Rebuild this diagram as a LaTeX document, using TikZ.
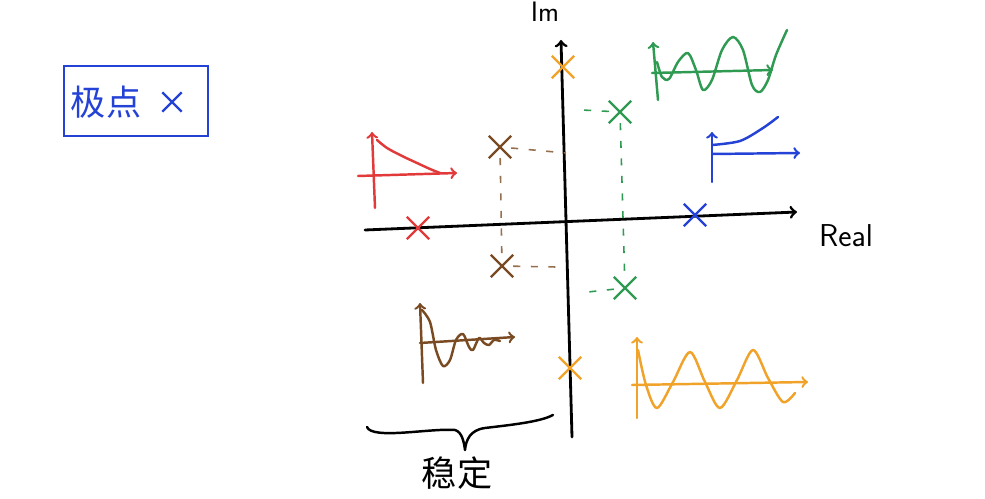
\documentclass[tikz,border=0pt]{standalone}
\usepackage{fontspec}
\newfontfamily\cjk{Noto Sans CJK SC}
\usepackage{tikz}
\usetikzlibrary{arrows,shapes.misc}
\definecolor{penred}{HTML}{E23A3A}
\definecolor{penblue}{HTML}{2443D6}
\definecolor{pengreen}{HTML}{2E9A52}
\definecolor{penbrown}{HTML}{7A4B22}
\definecolor{penorange}{HTML}{F0A229}
\tikzset{pole/.style = {cross out, draw, minimum size = 0.4cm, inner sep = 0pt, line width = 1.4pt}}
\tikzset{axis/.style = {->, > = to, line width = 1.4pt, line cap = round}}
\tikzset{curve/.style = {line width = 1.4pt, line cap = round, line join = round}}
\tikzset{guide/.style = {line width = 0.9pt, dash pattern = on 4pt off 6pt}}
\tikzset{legendbox/.style = {draw = penblue, line width = 1.4pt, minimum width = 2.88cm, minimum height = 1.4cm}}

\begin{document}
\begin{tikzpicture}[x=0.02cm, y=-0.02cm]
	\useasboundingbox (0,0) rectangle (985,499);

	% legend
	\node[legendbox] (legend) at (136,101) {};
	\node[text = penblue, font = \cjk\fontsize{20}{24}\selectfont] (poletext) at (106,102) {极点};
	\node[pole, penblue, minimum size = 0.34cm] (legendx) at (172,102) {};

	% complex plane
	\coordinate (realstart) at (365,230);
	\coordinate (realend) at (797,212);
	\coordinate (imstart) at (572,437);
	\coordinate (imend) at (561,40);
	\draw[axis, line width = 1.6pt] (realstart) -- (realend);
	\draw[axis, line width = 1.6pt] (imstart) -- (imend);
	\node[font = \sffamily\fontsize{16}{18}\selectfont] (imlabel) at (545,12) {Im};
	\node[font = \sffamily\fontsize{18}{20}\selectfont] (reallabel) at (846,236) {Real};

	% poles
	\node[pole, penorange] (o1) at (563,67) {};
	\node[pole, penorange] (o2) at (570,368) {};
	\node[pole, pengreen] (g1) at (620,112) {};
	\node[pole, pengreen] (g2) at (625,288) {};
	\node[pole, penbrown] (b1) at (500,147) {};
	\node[pole, penbrown] (b2) at (502,266) {};
	\node[pole, penred] (r1) at (418,228) {};
	\node[pole, penblue] (u1) at (695,215) {};

	\coordinate (bim1) at (566,153);
	\coordinate (bim2) at (556,267);
	\coordinate (gim1) at (582,110);
	\coordinate (gim2) at (588,292);
	\draw[guide, penbrown!80] (b1) -- (bim1);
	\draw[guide, penbrown!80] (b2) -- (bim2);
	\draw[guide, penbrown!80] (b1) -- (b2);
	\draw[guide, pengreen] (g1) -- (gim1);
	\draw[guide, pengreen] (g2) -- (gim2);
	\draw[guide, pengreen] (g1) -- (g2);

	% responses
	\draw[axis, penred] (375,208) -- (372,132);
	\draw[axis, penred] (358,176) -- (457,173);
	\draw[curve, penred] plot[smooth] coordinates {(377,140) (387,148) (402,156) (417,163) (430,169) (440,173)};

	\draw[axis, penblue] (712,182) -- (712,132);
	\draw[axis, penblue] (712,154) -- (800,153);
	\draw[curve, penblue] plot[smooth] coordinates {(712,145) (740,141) (763,128) (778,117)};

	\draw[axis, pengreen] (658,100) -- (653,42);
	\draw[axis, pengreen] (652,73) -- (773,70);
	\draw[curve, pengreen] plot[smooth] coordinates {(657,62) (662,77) (669,79) (678,62) (688,53) (696,70) (703,90) (712,80) (722,50) (733,37) (743,50) (752,85) (760,92) (768,80) (776,55) (787,30)};

	\draw[axis, penbrown] (423,383) -- (420,303);
	\draw[axis, penbrown] (420,343) -- (515,337);
	\draw[curve, penbrown] plot[smooth] coordinates {(422,310) (430,322) (436,350) (443,366) (450,360) (456,340) (463,334) (469,347) (473,350) (479,338) (484,343) (489,345) (494,340) (500,341)};

	\draw[axis, penorange] (637,418) -- (637,337);
	\draw[axis, penorange] (632,385) -- (808,382);
	\draw[curve, penorange] plot[smooth] coordinates {(638,350) (646,385) (657,408) (673,382) (690,352) (705,382) (720,408) (737,380) (753,350) (768,378) (783,402) (795,393)};

	% stable region
	\draw[curve] (367,427) .. controls (372,440) and (430,428) .. (455,430) .. controls (462,432) and (464,442) .. (465,450) .. controls (466,440) and (470,430) .. (485,428) .. controls (510,425) and (540,422) .. (553,415);
	\node[font = \cjk\fontsize{20}{24}\selectfont] (stable) at (457,473) {稳定};
\end{tikzpicture}
\end{document}
